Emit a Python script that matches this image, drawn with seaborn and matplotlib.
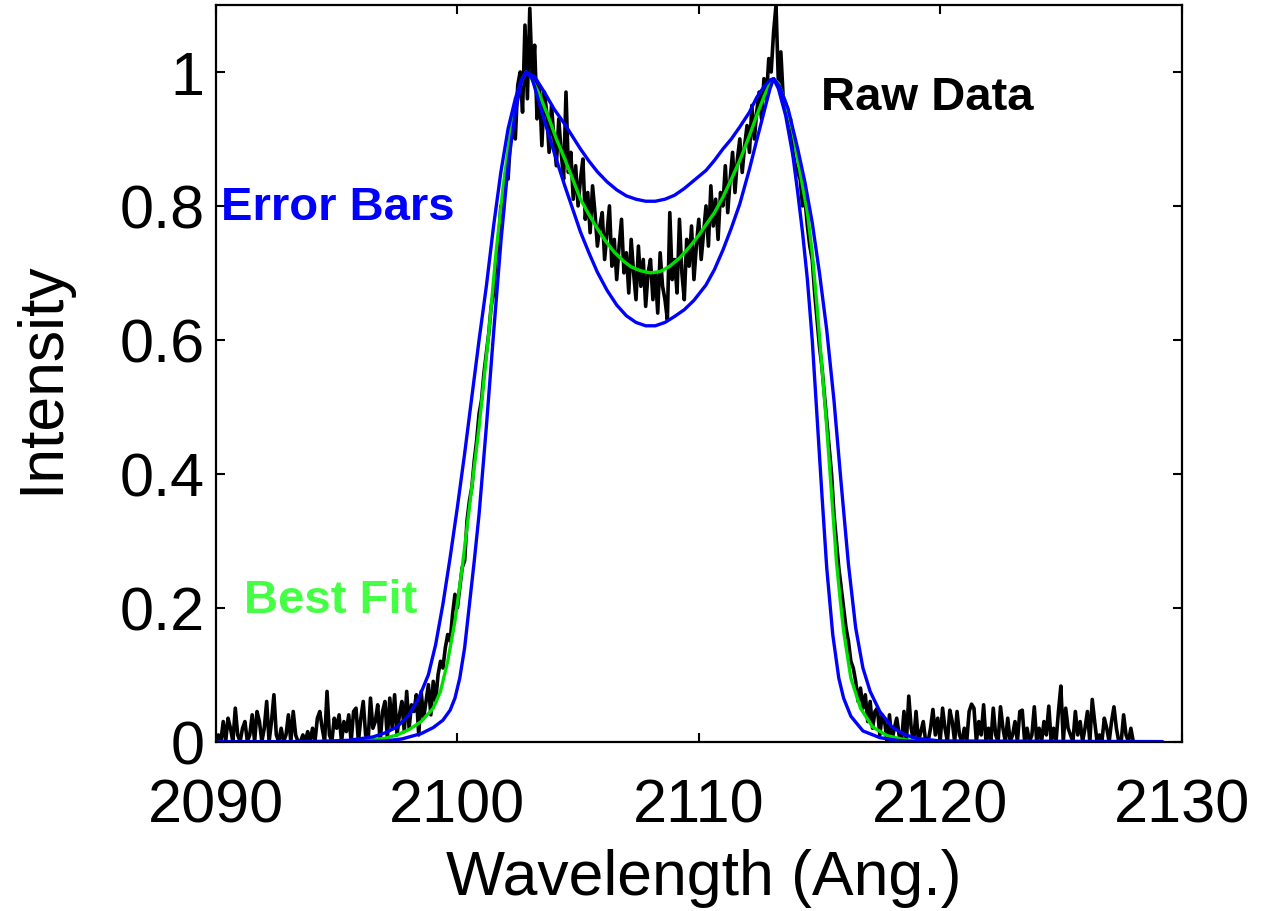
import numpy as np
import pandas as pd
import matplotlib
matplotlib.use("Agg")
import matplotlib.pyplot as plt
import seaborn as sns

# ---------------- data ----------------
raw_start = 2090.0
raw_step = 0.1
raw_intensity = [
    0.00, 0.01, 0.00, 0.03, 0.00, 0.035, 0.02, 0.00, 0.05, 0.01,
    0.00, 0.02, 0.03, 0.00, 0.01, 0.04, 0.00, 0.045, 0.03, 0.00,
    0.02, 0.06, 0.00, 0.03, 0.07, 0.01, 0.00, 0.02, 0.00, 0.01,
    0.04, 0.00, 0.045, 0.01, 0.00, 0.00, 0.01, 0.00, 0.015, 0.00,
    0.02, 0.00, 0.035, 0.045, 0.02, 0.00, 0.075, 0.01, 0.00, 0.035,
    0.02, 0.04, 0.00, 0.03, 0.015, 0.04, 0.00, 0.045, 0.05, 0.00,
    0.035, 0.06, 0.01, 0.00, 0.065, 0.02, 0.03, 0.055, 0.00, 0.045,
    0.06, 0.005, 0.065, 0.02, 0.07, 0.01, 0.04, 0.06, 0.015, 0.075,
    0.02, 0.055, 0.045, 0.07, 0.01, 0.075, 0.035, 0.06, 0.085, 0.04,
    0.09, 0.06, 0.10, 0.12, 0.11, 0.14, 0.16, 0.15, 0.19, 0.22,
    0.20, 0.23, 0.26, 0.27, 0.33, 0.36, 0.38, 0.42, 0.45, 0.49,
    0.51, 0.55, 0.58, 0.61, 0.65, 0.67, 0.72, 0.74, 0.80, 0.79,
    0.85, 0.84, 0.90, 0.93, 0.90, 0.98, 1.00, 0.94, 1.07, 0.96,
    1.095, 0.99, 1.04, 0.93, 0.98, 0.89, 0.97, 0.94, 0.88, 0.95,
    0.90, 0.86, 0.93, 0.88, 0.84, 0.97, 0.85, 0.88, 0.81, 0.86,
    0.80, 0.84, 0.87, 0.78, 0.82, 0.76, 0.83, 0.79, 0.74, 0.77,
    0.79, 0.72, 0.76, 0.80, 0.71, 0.75, 0.69, 0.74, 0.78, 0.70,
    0.73, 0.67, 0.75, 0.70, 0.66, 0.74, 0.68, 0.72, 0.65, 0.70,
    0.72, 0.66, 0.70, 0.64, 0.73, 0.68, 0.66, 0.63, 0.79, 0.69,
    0.72, 0.67, 0.78, 0.70, 0.66, 0.75, 0.71, 0.77, 0.69, 0.74,
    0.78, 0.72, 0.76, 0.80, 0.74, 0.83, 0.77, 0.81, 0.75, 0.82,
    0.80, 0.86, 0.79, 0.84, 0.88, 0.82, 0.87, 0.90, 0.85, 0.89,
    0.92, 0.88, 0.95, 0.90, 0.94, 0.97, 0.93, 0.99, 0.96, 1.02,
    1.00, 1.06, 1.10, 0.98, 1.03, 0.96, 0.95, 0.92, 0.93, 0.88,
    0.86, 0.85, 0.84, 0.80, 0.81, 0.77, 0.74, 0.72, 0.67, 0.63,
    0.59, 0.56, 0.52, 0.48, 0.44, 0.40, 0.34, 0.30, 0.26, 0.23,
    0.20, 0.17, 0.15, 0.12, 0.11, 0.09, 0.06, 0.08, 0.05, 0.07,
    0.03, 0.06, 0.02, 0.045, 0.05, 0.01, 0.04, 0.03, 0.00, 0.04,
    0.00, 0.02, 0.035, 0.01, 0.00, 0.045, 0.00, 0.068, 0.02, 0.00,
    0.045, 0.00, 0.015, 0.03, 0.00, 0.00, 0.02, 0.048, 0.01, 0.035,
    0.00, 0.05, 0.02, 0.00, 0.047, 0.03, 0.00, 0.045, 0.01, 0.00,
    0.02, 0.00, 0.045, 0.056, 0.05, 0.00, 0.03, 0.01, 0.055, 0.00,
    0.02, 0.00, 0.05, 0.01, 0.00, 0.052, 0.02, 0.00, 0.035, 0.00,
    0.01, 0.03, 0.00, 0.045, 0.047, 0.00, 0.02, 0.00, 0.01, 0.052,
    0.00, 0.02, 0.00, 0.03, 0.01, 0.053, 0.00, 0.02, 0.00, 0.045,
    0.083, 0.00, 0.05, 0.02, 0.01, 0.00, 0.045, 0.01, 0.03, 0.00,
    0.02, 0.045, 0.00, 0.063, 0.03, 0.00, 0.01, 0.00, 0.035, 0.02,
    0.00, 0.03, 0.052, 0.02, 0.00, 0.00, 0.04, 0.01, 0.00, 0.02,
    0.00,
]

fit_wl = [2090.0, 2094.0, 2096.0, 2097.0, 2097.5, 2098.0, 2098.5, 2099.0, 2099.3, 2099.6,
          2099.9, 2100.2, 2100.5, 2100.9, 2101.3, 2101.6, 2101.9, 2102.2, 2102.5, 2102.7,
          2102.85, 2103.0, 2103.35, 2103.75, 2104.1, 2104.45, 2104.8, 2105.1, 2105.45, 2105.8,
          2106.15, 2106.5, 2106.9, 2107.2, 2107.6, 2108.0, 2108.4, 2108.8, 2109.2, 2109.6,
          2110.0, 2110.3, 2110.65, 2111.0, 2111.35, 2111.7, 2112.1, 2112.4, 2112.7, 2112.95,
          2113.1, 2113.3, 2113.6, 2113.9, 2114.2, 2114.5, 2114.7, 2114.9, 2115.1, 2115.3,
          2115.5, 2115.7, 2115.85, 2116.0, 2116.3, 2116.7, 2117.2, 2117.8, 2118.5, 2119.5,
          2129.2]
fit_int = [0.0, 0.0, 0.001, 0.005, 0.01, 0.018, 0.03, 0.05, 0.075, 0.12,
           0.18, 0.26, 0.35, 0.47, 0.61, 0.73, 0.83, 0.91, 0.965, 0.99,
           1.0, 0.995, 0.97, 0.935, 0.90, 0.87, 0.838, 0.81, 0.787, 0.766,
           0.747, 0.731, 0.717, 0.709, 0.703, 0.70, 0.702, 0.71, 0.722, 0.738,
           0.756, 0.772, 0.79, 0.813, 0.84, 0.868, 0.905, 0.935, 0.963, 0.983,
           0.99, 0.983, 0.955, 0.91, 0.85, 0.79, 0.73, 0.65, 0.56, 0.47,
           0.37, 0.27, 0.215, 0.165, 0.095, 0.05, 0.022, 0.009, 0.003, 0.0,
           0.0]

err_hi_wl = [2090.0, 2094.0, 2095.5, 2096.5, 2097.0, 2097.5, 2098.0, 2098.4, 2098.8, 2099.1,
             2099.4, 2099.7, 2100.0, 2100.3, 2100.6, 2100.9, 2101.2, 2101.5, 2101.8, 2102.1,
             2102.4, 2102.65, 2102.85, 2103.2, 2103.6, 2104.0, 2104.45, 2104.8, 2105.1, 2105.45,
             2105.8, 2106.2, 2106.6, 2107.0, 2107.4, 2107.8, 2108.2, 2108.6, 2109.0, 2109.4,
             2109.8, 2110.3, 2110.65, 2111.0, 2111.35, 2111.7, 2112.1, 2112.4, 2112.7, 2112.95,
             2113.1, 2113.35, 2113.7, 2114.1, 2114.4, 2114.7, 2115.0, 2115.3, 2115.6, 2115.9,
             2116.2, 2116.5, 2116.8, 2117.1, 2117.5, 2118.0, 2118.5, 2119.0, 2120.0, 2129.2]
err_hi_int = [0.0, 0.0, 0.002, 0.007, 0.013, 0.022, 0.04, 0.065, 0.10, 0.145,
              0.205, 0.275, 0.35, 0.43, 0.515, 0.60, 0.68, 0.77, 0.85, 0.915,
              0.96, 0.988, 1.0, 0.993, 0.97, 0.945, 0.922, 0.902, 0.885, 0.867,
              0.851, 0.836, 0.824, 0.815, 0.81, 0.807, 0.807, 0.81, 0.816, 0.826,
              0.838, 0.853, 0.868, 0.885, 0.90, 0.918, 0.94, 0.962, 0.978, 0.988,
              0.99, 0.978, 0.945, 0.885, 0.835, 0.775, 0.70, 0.615, 0.51, 0.385,
              0.265, 0.17, 0.11, 0.075, 0.045, 0.022, 0.011, 0.005, 0.001, 0.0]

err_lo_wl = [2090.0, 2096.0, 2097.0, 2097.7, 2098.5, 2099.0, 2099.4, 2099.7, 2099.9, 2100.1,
             2100.3, 2100.5, 2100.7, 2100.9, 2101.2, 2101.5, 2101.8, 2102.1, 2102.4, 2102.65,
             2102.85, 2103.1, 2103.5, 2104.05, 2104.45, 2104.8, 2105.1, 2105.45, 2105.8, 2106.2,
             2106.6, 2107.0, 2107.4, 2107.8, 2108.2, 2108.6, 2109.0, 2109.4, 2109.8, 2110.3,
             2110.65, 2111.0, 2111.35, 2111.7, 2112.1, 2112.4, 2112.7, 2112.95, 2113.1, 2113.3,
             2113.6, 2113.9, 2114.1, 2114.3, 2114.5, 2114.7, 2114.9, 2115.1, 2115.3, 2115.55,
             2115.8, 2116.0, 2116.3, 2116.8, 2117.5, 2118.2, 2119.0, 2129.2]
err_lo_int = [0.0, 0.0, 0.001, 0.004, 0.012, 0.021, 0.032, 0.047, 0.065, 0.095,
              0.14, 0.205, 0.27, 0.34, 0.47, 0.61, 0.745, 0.86, 0.94, 0.985,
              1.0, 0.99, 0.94, 0.875, 0.83, 0.793, 0.761, 0.73, 0.701, 0.674,
              0.652, 0.636, 0.626, 0.621, 0.621, 0.626, 0.635, 0.645, 0.659, 0.682,
              0.705, 0.734, 0.767, 0.803, 0.855, 0.898, 0.94, 0.975, 0.99, 0.975,
              0.935, 0.875, 0.82, 0.76, 0.69, 0.60, 0.485, 0.37, 0.26, 0.16,
              0.095, 0.065, 0.038, 0.016, 0.006, 0.002, 0.0, 0.0]

x_ticks = [2090, 2100, 2110, 2120, 2130]
x_tick_labels = ["2090", "2100", "2110", "2120", "2130"]
y_ticks = [0, 0.2, 0.4, 0.6, 0.8, 1.0]
y_tick_labels = ["0", "0.2", "0.4", "0.6", "0.8", "1"]

# ---------------- style ----------------
sns.set_theme(style="white")
plt.rcParams["font.family"] = ["Liberation Sans", "DejaVu Sans"]

fig = plt.figure(figsize=(12.66, 9.12), dpi=100)
ax = fig.add_axes([0.1706, 0.1857, 0.7627, 0.8077])

raw_df = pd.DataFrame({
    "wl": raw_start + raw_step * np.arange(len(raw_intensity)),
    "intensity": raw_intensity,
})
black = "#000000"
blue = "#0000ff"
green = "#00e000"

sns.lineplot(data=raw_df, x="wl", y="intensity", ax=ax, color=black, lw=2.6,
             estimator=None, sort=False)
sns.lineplot(x=fit_wl, y=fit_int, ax=ax, color=green, lw=2.4, estimator=None, sort=False)
sns.lineplot(x=err_hi_wl, y=err_hi_int, ax=ax, color=blue, lw=2.4, estimator=None, sort=False)
sns.lineplot(x=err_lo_wl, y=err_lo_int, ax=ax, color=blue, lw=2.4, estimator=None, sort=False)

ax.set_xlim(2090, 2130)
ax.set_ylim(0, 1.1)
ax.set_xticks(x_ticks)
ax.set_xticklabels(x_tick_labels)
ax.set_yticks(y_ticks)
ax.set_yticklabels(y_tick_labels)

for s in ax.spines.values():
    s.set_visible(True)
    s.set_linewidth(1.6)
    s.set_color("black")

ax.tick_params(axis="both", which="major", direction="in", length=6.5, width=1.5,
               colors="black", labelcolor="black", labelsize=44,
               left=True, bottom=True, top=True, right=True)
ax.tick_params(axis="x", pad=26)
ax.tick_params(axis="y", pad=8)

ax.set_xlabel("Wavelength (Ang.)", fontsize=45, color="black")
ax.set_ylabel("Intensity", fontsize=45, color="black")
ax.xaxis.set_label_coords(0.505, -0.145)
ax.yaxis.set_label_coords(-0.15, 0.496)

ax.text(2090.21, 0.781, "Error Bars", color=blue, fontsize=34, fontweight="bold",
        ha="left", va="baseline")
ax.text(2115.05, 0.945, "Raw Data", color=black, fontsize=34, fontweight="bold",
        ha="left", va="baseline")
ax.text(2091.17, 0.194, "Best Fit", color="#44ff44", fontsize=34, fontweight="bold",
        ha="left", va="baseline")

fig.savefig("out.png", dpi=100, facecolor="white")
